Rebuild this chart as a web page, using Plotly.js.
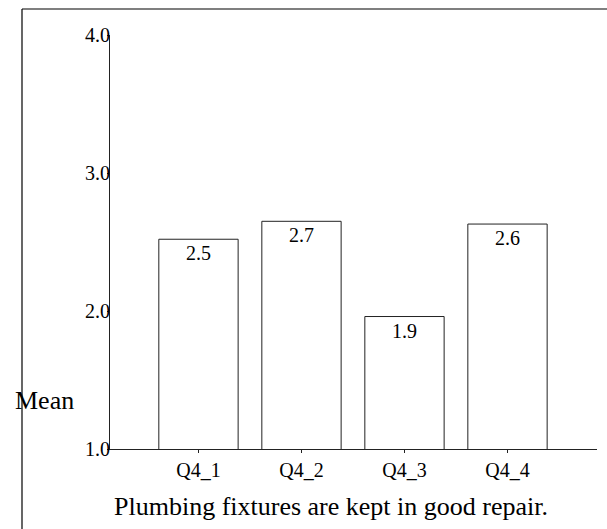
<!DOCTYPE html>
<html>
<head>
<meta charset="utf-8">
<script src="https://cdn.plot.ly/plotly-3.0.1.min.js"></script>
<style>
  html, body { margin: 0; padding: 0; background: #ffffff; }
  #chart { width: 607px; height: 529px; }
</style>
</head>
<body>
<div id="chart"></div>
<script>
const categories = ['Q4_1', 'Q4_2', 'Q4_3', 'Q4_4'];
const meanValues = [2.52, 2.65, 1.96, 2.63];
const valueLabels = ['2.5', '2.7', '1.9', '2.6'];
const yTickValues = [1, 2, 3, 4];
const yTickLabels = ['1.0', '2.0', '3.0', '4.0'];
const chartTitle = 'Plumbing fixtures are kept in good repair.';
const yLabel = 'Mean';

const FONT = 'Liberation Serif';

const trace = {
  type: 'bar',
  x: categories,
  y: meanValues,
  width: 0.77,
  text: valueLabels,
  textposition: 'inside',
  insidetextanchor: 'end',
  textangle: 0,
  textfont: { family: FONT, size: 20, color: '#000000' },
  insidetextfont: { family: FONT, size: 20, color: '#000000' },
  marker: { color: '#ffffff', line: { color: '#222222', width: 1 } },
  hoverinfo: 'none'
};

const layout = {
  width: 607,
  height: 529,
  margin: { l: 110, r: 10, t: 35, b: 80 },
  paper_bgcolor: '#ffffff',
  plot_bgcolor: '#ffffff',
  showlegend: false,
  font: { family: FONT, size: 20, color: '#000000' },
  xaxis: {
    type: 'category',
    range: [-0.859, 3.869],
    showgrid: false,
    zeroline: false,
    showline: true,
    linecolor: '#222222',
    linewidth: 1,
    ticks: 'outside',
    ticklen: 3,
    tickcolor: '#222222',
    tickfont: { family: FONT, size: 20, color: '#000000' },
    fixedrange: true
  },
  yaxis: {
    range: [1, 4],
    tickvals: yTickValues,
    ticktext: yTickLabels,
    showgrid: false,
    zeroline: false,
    showline: true,
    linecolor: '#222222',
    linewidth: 1,
    ticks: 'outside',
    ticklen: 2,
    tickcolor: '#222222',
    ticklabelstandoff: -7,
    tickfont: { family: FONT, size: 20, color: '#000000' },
    fixedrange: true
  },
  shapes: [
    { type: 'line', xref: 'paper', yref: 'paper', x0: -0.1807, x1: 1.03, y0: 1.0628, y1: 1.0628, line: { color: '#000000', width: 1.2 } },
    { type: 'line', xref: 'paper', yref: 'paper', x0: -0.1807, x1: -0.1807, y0: 1.0628, y1: -0.2, line: { color: '#000000', width: 1.2 } }
  ],
  annotations: [
    { text: yLabel, xref: 'paper', yref: 'paper', x: -0.199, y: 0.116, xanchor: 'left', yanchor: 'middle', showarrow: false, font: { family: FONT, size: 26, color: '#000000' } },
    { text: chartTitle, xref: 'paper', yref: 'paper', x: 0.4548, y: -0.14, xanchor: 'center', yanchor: 'middle', showarrow: false, font: { family: FONT, size: 26, color: '#000000' } }
  ]
};

Plotly.newPlot('chart', [trace], layout, { displayModeBar: false, staticPlot: true });
</script>
</body>
</html>
